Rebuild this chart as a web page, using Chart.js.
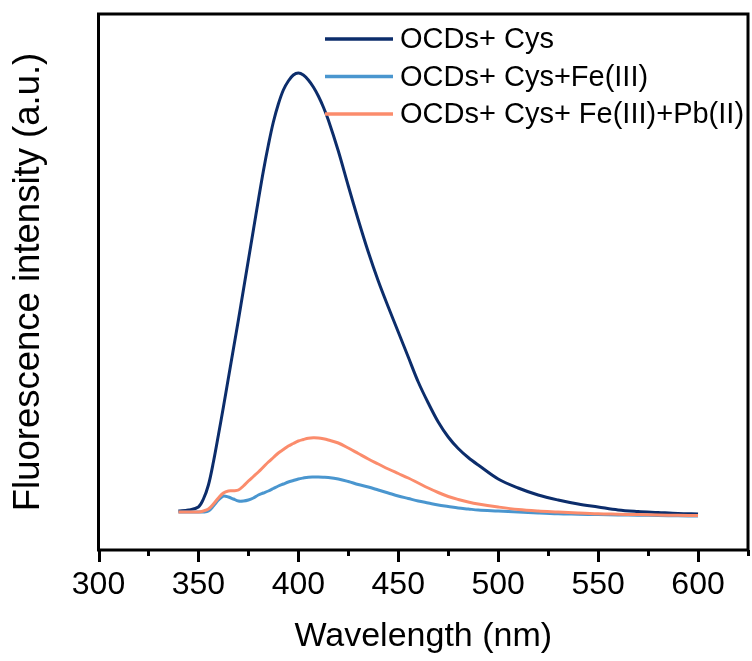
<!DOCTYPE html>
<html>
<head>
<meta charset="utf-8">
<script src="https://cdn.jsdelivr.net/npm/chart.js@4/dist/chart.umd.min.js"></script>
<style>
  html, body { margin: 0; padding: 0; background: #fff; }
  #wrap { width: 752px; height: 661px; }
</style>
</head>
<body>
<div id="wrap"><canvas id="c" width="752" height="661"></canvas></div>
<script>
// Emission wavelengths (nm)
const wavelength = [340, 345, 350, 352.5, 355, 357.5, 360, 362.5, 365, 367.5, 370, 372.5, 375, 377.5,
  380, 382.5, 385, 387.5, 390, 392.5, 395, 397.5, 400, 402.5, 405, 407.5, 410, 412.5, 415,
  420, 425, 430, 435, 440, 445, 450, 455, 460, 465, 470, 475, 480, 485, 490, 500, 510, 520, 530, 540, 550,
  560, 570, 580, 590, 600];

// Fluorescence intensity (a.u.)
const cysValues = [390, 400, 430, 510, 650, 880, 1150, 1430, 1720, 2010, 2300, 2600, 2900, 3200,
  3500, 3790, 4050, 4280, 4460, 4600, 4690, 4750, 4770, 4750, 4700, 4630, 4540, 4430, 4300,
  3990, 3640, 3300, 2980, 2690, 2430, 2180, 1930, 1680, 1470, 1280, 1130, 1015, 925, 850, 710, 620, 550, 500, 460, 430,
  400, 385, 375, 365, 360];

const feValues = [380, 380, 380, 380, 390, 440, 500, 540, 530, 510, 490, 490, 500, 520,
  550, 570, 590, 615, 640, 660, 680, 695, 710, 720, 728, 730, 730, 728, 725,
  710, 685, 655, 630, 600, 570, 540, 515, 490, 470, 450, 435, 420, 410, 400, 390, 380, 370, 362, 358, 354,
  350, 348, 345, 342, 340];

const pbValues = [380, 380, 380, 390, 410, 460, 520, 570, 590, 592, 600, 640, 690, 735,
  780, 830, 880, 925, 970, 1005, 1040, 1065, 1090, 1105, 1118, 1122, 1120, 1112, 1100,
  1070, 1020, 965, 910, 860, 810, 765, 720, 670, 620, 575, 535, 505, 480, 460, 430, 405, 390, 380, 370, 362,
  358, 354, 350, 347, 344];

const seriesLabels = ['OCDs+ Cys', 'OCDs+ Cys+Fe(III)', 'OCDs+ Cys+ Fe(III)+Pb(II)'];
const seriesColors = ['#0c2d6b', '#4a96cf', '#fb8c6c'];

const xTickValues = [300, 350, 400, 450, 500, 550, 600];

const FONT = '"Liberation Sans", Arial, sans-serif';

function toPoints(vals) {
  return wavelength.map((w, i) => ({ x: w, y: vals[i] }));
}

// Box frame plus major/minor tick marks on the wavelength axis
const framePlugin = {
  id: 'frame',
  afterDatasetsDraw(chart) {
    const { ctx, chartArea: a, scales } = chart;
    ctx.save();
    ctx.strokeStyle = '#000';
    ctx.lineWidth = 3;
    ctx.strokeRect(a.left, a.top, a.right - a.left, a.bottom - a.top);
    const xs = scales.x;
    for (let v = xs.min; v <= xs.max + 0.001; v += 25) {
      const px = Math.round(xs.getPixelForValue(v)) + 0.5;
      const major = xTickValues.includes(v);
      ctx.beginPath();
      ctx.moveTo(px, a.bottom);
      ctx.lineTo(px, a.bottom + (major ? 12 : 6));
      ctx.stroke();
    }
    ctx.restore();
  }
};

// Legend drawn inside the plot, top right
const legendPlugin = {
  id: 'innerLegend',
  afterDatasetsDraw(chart) {
    const { ctx } = chart;
    ctx.save();
    ctx.font = '29px ' + FONT;
    ctx.textBaseline = 'middle';
    ctx.textAlign = 'left';
    chart.data.datasets.forEach((ds, i) => {
      const y = 39 + i * 37.5;
      ctx.strokeStyle = ds.borderColor;
      ctx.lineWidth = 3.5;
      ctx.beginPath();
      ctx.moveTo(325, y);
      ctx.lineTo(393, y);
      ctx.stroke();
      ctx.fillStyle = '#000';
      ctx.fillText(ds.label, 400, y + 1);
    });
    ctx.restore();
  }
};

new Chart(document.getElementById('c'), {
  type: 'line',
  data: {
    datasets: [
      { label: seriesLabels[0], data: toPoints(cysValues), borderColor: seriesColors[0], order: 2 },
      { label: seriesLabels[1], data: toPoints(feValues), borderColor: seriesColors[1], order: 1 },
      { label: seriesLabels[2], data: toPoints(pbValues), borderColor: seriesColors[2], order: 0 }
    ]
  },
  options: {
    responsive: false,
    animation: false,
    devicePixelRatio: 1,
    layout: { padding: { top: 14, right: 4, left: 0, bottom: 0 } },
    elements: {
      line: { borderWidth: 3, tension: 0.35, fill: false },
      point: { radius: 0 }
    },
    plugins: {
      legend: { display: false },
      tooltip: { enabled: false }
    },
    scales: {
      x: {
        type: 'linear',
        min: 300,
        max: 625,
        border: { display: false },
        grid: { display: false, drawTicks: false },
        ticks: {
          stepSize: 25,
          autoSkip: false,
          maxRotation: 0,
          padding: 16,
          color: '#000',
          font: { family: FONT, size: 32 },
          callback: (v) => (xTickValues.includes(v) ? String(v) : '')
        },
        title: {
          display: true,
          text: 'Wavelength (nm)',
          color: '#000',
          font: { family: FONT, size: 34 },
          padding: { top: 0, bottom: 4 }
        },
        afterFit: (s) => { s.height = 111; s.paddingLeft = 0; s.paddingRight = 0; }
      },
      y: {
        min: 0,
        max: 5360,
        border: { display: false },
        grid: { display: false, drawTicks: false },
        ticks: { display: false },
        title: {
          display: true,
          text: 'Fluorescence intensity (a.u.)',
          color: '#000',
          font: { family: FONT, size: 36.5 },
          padding: { top: 7, bottom: 0 }
        },
        afterFit: (s) => { s.width = 98.5; }
      }
    }
  },
  plugins: [framePlugin, legendPlugin]
});
</script>
</body>
</html>
